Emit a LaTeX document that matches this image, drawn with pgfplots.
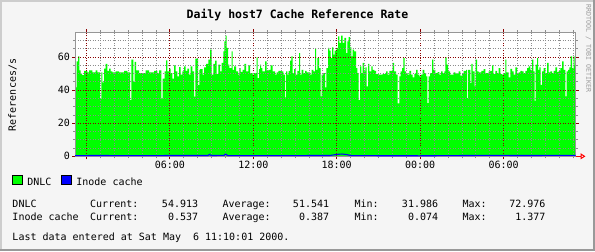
\documentclass[border=0pt]{standalone}
\usepackage{fontspec}
\setmainfont{DejaVu Sans Mono}
\usepackage{pgfplots}
\usepackage{pgfplotstable}
\pgfplotsset{compat=1.18}
\usetikzlibrary{arrows.meta}
\definecolor{mred}{RGB}{140,0,0}
\definecolor{mgrey}{RGB}{140,140,140}
\definecolor{bg}{RGB}{245,245,245}
\definecolor{gr}{RGB}{0,255,0}
\definecolor{bl}{RGB}{0,0,255}
\definecolor{frameL}{RGB}{205,205,205}
\definecolor{frameD}{RGB}{153,153,153}
\definecolor{axgrey}{RGB}{150,150,150}

% DNLC: x = position on the time axis (chart pixels), v = references/s
\pgfplotstableread{
x v
75 41.6
76.7 57.4
78 60.4
79.3 52
80.7 50
82 49
84 51.7
87.3 50.7
89 52
92.3 50.7
95.7 52
97.3 50.7
100 34.5
101.3 50.7
102.3 44.6
104 53
105.7 55.8
107.3 51.7
109 53
110.7 51.3
112.3 50.7
115.7 51.3
119 50.7
124 51.7
127.3 50.7
130 34
131.3 58.4
133.3 45
134.7 57
136 52
139 50.3
145.7 52
149 50.7
154 51.7
157.3 50.3
159 52
161.3 35
162.7 47
164.7 51.3
166 58
167.3 51.3
169 53
170.7 50.3
172.3 47
174 55
175.7 51.3
177.3 48.3
179 53.9
180.7 49.3
182.3 51.3
184 54.3
185.7 51.7
187.3 53
189 49.3
190.7 54.3
192.3 51.3
194 36
195.3 59
198 43
199.3 52.3
200 52.7
202.7 49.3
204 53.7
206 55.8
208.3 58.4
210 64.4
211.7 49.3
213.3 55.8
215 57.8
216.7 49.7
218.3 55.4
220 51.3
221.7 56.4
223.3 63.4
224.3 69.5
225.7 73
226.7 65.5
228 55.4
229.3 53.3
231.7 63.4
232.7 52.3
234 54.3
236 51.3
238 49.3
239.3 53.3
240.7 51
242.7 52.3
244.3 55.8
246 51.3
248.3 55
250 50.3
252.7 49.3
254 50.3
256.7 59.8
257.7 47.3
259 52.7
260 55.4
261 53.3
262.3 51.3
265 57.4
266.7 51.7
268.3 52.3
270.7 55
272.7 51.3
275 49.3
276.7 50.7
278.3 51.7
281.7 51.3
283.3 49.3
285 35.6
286 51.3
287.3 49.3
288.7 51.7
290 57.8
291.3 60.4
292.7 50.3
294 52.7
295.7 49.3
297.3 51.7
299 62.4
300 49.3
301.7 52.3
303.3 50.3
305 51.7
306.7 50.7
310 49.3
311.7 52.3
313.3 51.3
315 65
316 52.3
317.3 59.4
319 53.3
320.7 36.2
321.7 49.3
323.3 50.3
325 41.6
326.3 53.3
328 65.5
329.3 63.8
330.7 59.4
332 65.9
333.3 61.4
334.7 63.8
336.7 65.5
338 72.5
339.3 68.5
341 72.9
342.7 68.5
344.3 71.5
346 62.4
347.3 69.5
348.7 72
350 65.9
351.3 60.4
352.7 64.4
354 63.4
356 53.3
357.3 50.3
358.7 34
360 54.3
361.3 50.3
362.7 56.4
364 51.3
365.3 53.7
366.7 42.2
368 55.8
369.3 51.3
371.3 54.3
372.7 52.3
374.3 51.7
376 49.7
378.7 49.3
382.7 49.7
386 51.3
387.7 49.3
389.3 51.7
392.7 56.4
394 51.3
396 49.3
397.7 32
399.3 48.3
400.7 51.3
402 53.3
403.3 59.4
404.7 51.3
406 50.3
407.7 49.3
409.3 51.7
411 49.3
412.7 47.7
414.3 49.7
416 52.3
417.7 49.3
419.3 48.3
421 49.3
422.7 52.3
424.3 50.3
426 48.3
427.3 32.1
428.7 48.3
430 50.3
432 58.4
433.3 52.3
435.3 50.3
437.7 50.9
439.3 49.3
441 51.3
442.7 50.3
444.3 51.3
445.3 59.8
446.7 55.4
448 51.3
450 49.3
452 49.3
453.7 50.7
455.3 50.1
458.7 51.3
460.3 48.7
462 50.3
463.7 51.7
466 52.3
467 35.2
468 52.3
470.3 44.2
471.3 55.8
472.7 51.3
474.7 42.2
475.7 58.4
477 51.3
478.7 50.7
481.3 51.7
483.7 52.7
485.3 50.3
488.7 51.3
490.3 51.7
492 55
493.3 49.7
495.3 51.7
497 50.3
498.7 53.3
500.3 49.7
502 49.3
503.7 50.3
505.3 58.4
506.3 50.7
508.7 47.7
510.3 52.9
512 51.3
513.7 49.3
515.3 53.7
517 50.3
518.7 50.7
520.3 51.7
522 51.3
523.7 50.3
525.3 51.7
527 53.3
528.7 54.3
530.3 52.3
532 58.4
533.3 51.3
534.7 33.5
535.7 55.4
537 59.4
538 52.3
539.3 53.7
540.7 43.2
542 51.3
543.7 53.3
545.3 50.3
547 56.4
548.7 50.7
550.3 51.3
552 50.3
553.7 51.7
555.3 53.7
557 50.9
558.7 51.7
560.3 53.3
562 57.4
563.7 52.3
565.3 36.2
566.7 51.3
568 52.3
569.3 53.7
570.7 60.4
572 53.3
573.7 60.4
574.7 54.9
575.7 54.9
}\dnlc

% Inode cache
\pgfplotstableread{
x v
75 0.4
100 0.5
120 0.4
160 0.45
208 0.5
209.5 1.1
211.5 0.45
224 0.6
225.5 1.3
228 0.45
280 0.4
330 0.5
334 0.9
338 1.2
342 1.377
346 1.1
350 0.6
352 0.4
420 0.3
484 0.55
520 0.5
575.7 0.537
}\inode

\begin{document}
\begin{tikzpicture}[x=1bp,y=1bp,font=\fontsize{10bp}{12bp}\selectfont,every node/.style={inner sep=0pt}]
\path[use as bounding box] (0,0) rectangle (595,251);
\fill[bg] (0,0) rectangle (595,251);
\draw[frameL, line width=2bp] (1,0) -- (1,250) -- (595,250);
\draw[frameD, line width=2bp] (0,1) -- (594,1) -- (594,251);

\begin{axis}[
  axis on top,
  at={(75bp,94.7bp)}, anchor=south west,
  x=1bp, y=1.6547bp,
  xmin=75, xmax=575.7, ymin=0, ymax=75,
  axis background/.style={fill=white},
  axis line style={draw=axgrey, line width=1bp},
  xtick={86.3,169.8,253.3,336.7,420.2,503.7},
  xticklabels={,06:00,12:00,18:00,00:00,06:00},
  minor xtick={100.2,114.1,128.0,141.9,155.9,183.7,197.6,211.5,225.4,239.4,267.2,281.1,295.0,308.9,322.8,350.6,364.5,378.4,392.4,406.3,434.1,448.0,461.9,475.8,489.7,517.6,531.5,545.4,559.3,573.2},
  ytick={20,40,60}, yticklabels={20,40,60},
  extra y ticks={0}, extra y tick labels={0},
  extra y tick style={grid=none},
  minor ytick={5,10,15,25,30,35,45,50,55,65,70},
  grid=both,
  major grid style={draw=mred, line width=0.8bp, dash pattern=on 1bp off 1.5bp},
  minor grid style={draw=mgrey, line width=0.8bp, dash pattern=on 1bp off 1.5bp},
  tick align=outside,
  major tick length=3bp, minor tick length=2bp,
  major tick style={draw=mred, line width=0.8bp},
  minor tick style={draw=mgrey, line width=0.8bp},
  tick label style={font=\fontsize{10bp}{12bp}\selectfont},
  xticklabel style={inner sep=2bp},
  yticklabel style={inner sep=2bp},
  /pgf/number format/assume math mode=true,
  legend style={at={(axis description cs:-0.12522,-0.2498)}, anchor=south west,
    draw=none, fill=none, inner sep=0pt, outer sep=0pt, legend columns=2,
    font=\fontsize{10bp}{12bp}\selectfont,
    nodes={inner sep=0pt},
    /tikz/every odd column/.append style={column sep=5bp},
    /tikz/every even column/.append style={column sep=10bp}},
  legend image code/.code={\draw[#1, draw=black, line width=0.6bp] (0bp,-1.3bp) rectangle (9.4bp,7.7bp);},
]
\addplot[const plot, fill=gr, draw=none, forget plot] table[x=x,y=v]{\dnlc} \closedcycle;
\addlegendimage{fill=gr}
\addlegendentry{DNLC}
\addlegendimage{fill=bl}
\addlegendentry{Inode cache}
\end{axis}

% overlay axis so that the Inode cache line lies above the axis line
\begin{axis}[
  at={(75bp,94.7bp)}, anchor=south west,
  x=1bp, y=1.6547bp,
  xmin=75, xmax=575.7, ymin=0, ymax=75,
  hide axis,
]
\addplot[bl, line width=1.1bp] table[x=x,y=v]{\inode};
\end{axis}

\draw[red, line width=1bp, -{Triangle[open, length=5bp, width=6bp]}] (575.7,94.7) -- (585.5,94.7);

\node[anchor=base, font=\fontsize{11.5bp}{13bp}\selectfont\bfseries] at (297.5,232.7) {Daily host7 Cache Reference Rate};
\node[rotate=90, anchor=center] at (12.5,156) {References/s};
\node[rotate=-90, anchor=center, text=frameD, font=\fontsize{6.6bp}{8bp}\selectfont] at (588.5,202.5) {RRDTOOL / TOBI OETIKER};

\node[anchor=base west] at (12.3,43.3) {DNLC};
\node[anchor=base west] at (90,43.3) {Current:};
\node[anchor=base east] at (198.3,43.3) {54.913};
\node[anchor=base west] at (222.3,43.3) {Average:};
\node[anchor=base east] at (329.3,43.3) {51.541};
\node[anchor=base west] at (354.3,43.3) {Min:};
\node[anchor=base east] at (438.3,43.3) {31.986};
\node[anchor=base west] at (462.3,43.3) {Max:};
\node[anchor=base east] at (545.7,43.3) {72.976};

\node[anchor=base west] at (12.3,30.3) {Inode cache};
\node[anchor=base west] at (90,30.3) {Current:};
\node[anchor=base east] at (198.3,30.3) {0.537};
\node[anchor=base west] at (222.3,30.3) {Average:};
\node[anchor=base east] at (329.3,30.3) {0.387};
\node[anchor=base west] at (354.3,30.3) {Min:};
\node[anchor=base east] at (438.3,30.3) {0.074};
\node[anchor=base west] at (462.3,30.3) {Max:};
\node[anchor=base east] at (545.7,30.3) {1.377};

\node[anchor=base west] at (12.3,10.3) {Last data entered at Sat May\ \ 6 11:10:01 2000.};
\end{tikzpicture}
\end{document}
